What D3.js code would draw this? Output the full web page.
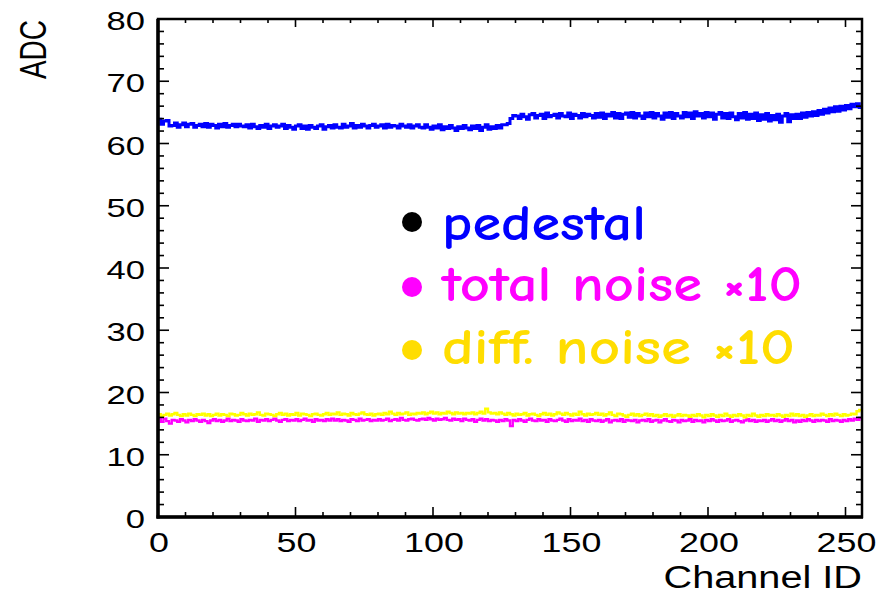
<!DOCTYPE html>
<html>
<head>
<meta charset="utf-8">
<script src="https://cdn.jsdelivr.net/npm/d3@7"></script>
<style>
  html, body { margin: 0; padding: 0; background: #ffffff; }
  svg { display: block; }
</style>
</head>
<body>
<div id="chart"></div>
<script>
const pedestal = [
  63.9,63.1,63.6,63.7,62.8,62.9,63.3,62.6,63.0,63.3,62.7,63.1,63.2,62.6,62.9,63.1,
  62.7,63.2,62.6,63.1,62.9,62.5,63.1,62.7,63.2,62.6,62.9,63.1,62.7,63.1,62.8,62.7,
  63.0,62.5,63.1,62.7,62.4,62.9,62.6,63.1,62.4,62.8,63.0,62.6,62.8,63.1,62.4,62.9,
  62.6,62.3,62.8,63.0,62.4,62.8,62.3,62.9,62.6,62.4,62.8,63.0,62.3,62.7,62.9,62.5,
  63.0,62.6,62.5,63.1,62.6,62.8,63.2,62.5,62.9,62.6,63.1,62.8,62.5,62.9,63.1,62.6,
  62.8,63.0,62.5,63.1,62.6,62.9,62.8,62.5,63.1,62.8,62.6,63.0,62.5,62.8,63.0,62.6,
  62.5,63.0,62.6,62.3,62.8,62.5,63.0,62.2,62.7,62.4,62.9,62.5,62.1,62.7,62.4,62.9,
  62.5,62.2,62.8,62.4,62.9,62.1,62.6,63.0,62.3,62.7,62.4,62.9,62.5,63.0,63.0,63.2,
  64.0,64.5,64.4,64.0,64.7,64.3,63.9,64.6,64.8,64.1,64.5,64.7,64.0,64.9,64.3,64.5,
  64.7,64.1,64.8,64.4,64.3,64.9,64.0,64.7,64.5,64.1,64.8,64.3,64.7,64.5,64.1,64.8,
  64.2,64.9,64.0,64.7,64.4,65.0,64.1,64.8,64.0,64.7,64.9,64.2,65.0,64.1,64.8,64.4,
  64.0,64.9,64.3,65.0,64.1,64.8,64.4,63.9,64.9,64.2,65.0,64.0,64.8,64.4,64.1,65.0,
  64.3,64.9,64.0,65.1,64.4,64.8,64.1,65.0,64.3,64.9,63.9,64.7,65.0,64.1,64.8,64.0,
  64.9,64.3,63.8,64.8,64.1,65.0,63.9,64.7,64.0,64.9,63.7,64.6,63.9,64.8,63.6,64.5,
  63.8,64.7,63.4,64.4,64.8,63.5,64.6,64.0,64.7,64.0,64.9,64.2,65.0,64.4,65.1,64.5,
  65.3,64.7,65.5,64.9,65.7,65.1,65.9,65.2,66.0,65.4,66.1,65.6,66.3,65.9,66.4,65.8
];

const totalNoise = [
  15.9,15.3,15.8,15.4,15.0,15.6,15.5,15.3,15.7,15.5,15.2,15.6,15.4,15.7,15.5,15.3,
  15.6,15.4,15.1,15.5,15.7,15.4,15.6,15.3,15.5,15.8,15.4,15.6,15.5,15.3,15.7,15.5,
  15.4,15.6,15.5,15.8,15.3,15.6,15.5,15.7,15.4,15.6,15.8,15.5,15.3,15.6,15.7,15.4,
  15.6,15.5,15.7,15.4,15.6,15.8,15.5,15.6,15.3,15.7,15.5,15.6,15.4,15.7,15.5,15.8,
  15.5,15.7,15.4,15.6,15.5,15.3,15.7,15.6,15.4,15.8,15.5,15.6,15.7,15.4,15.6,15.5,
  15.7,15.5,15.6,15.8,15.4,15.6,15.7,15.5,15.9,15.6,15.5,15.7,15.8,15.6,15.5,15.7,
  15.8,15.6,15.9,15.7,15.5,15.8,15.6,15.7,15.9,15.6,15.5,15.8,15.6,15.7,15.4,15.8,
  15.6,15.5,15.7,15.3,15.6,15.8,15.5,15.7,15.4,15.6,15.5,15.3,15.6,15.4,15.7,15.5,
  14.6,15.6,15.4,15.7,15.5,15.3,15.6,15.8,15.5,15.4,15.7,15.5,15.6,15.3,15.7,15.5,
  15.4,15.6,15.8,15.5,15.3,15.7,15.4,15.6,15.5,15.8,15.4,15.6,15.3,15.7,15.5,15.4,
  15.6,15.3,15.5,15.7,15.2,15.5,15.6,15.4,15.7,15.3,15.6,15.5,15.4,15.6,15.2,15.5,
  15.6,15.4,15.7,15.3,15.5,15.6,15.2,15.5,15.7,15.4,15.3,15.6,15.5,15.2,15.6,15.4,
  15.5,15.7,15.3,15.6,15.4,15.5,15.2,15.6,15.4,15.7,15.5,15.3,15.6,15.4,15.5,15.7,
  15.3,15.5,15.6,15.4,15.2,15.5,15.7,15.4,15.6,15.3,15.5,15.4,15.6,15.3,15.5,15.7,
  15.4,15.6,15.3,15.5,15.7,15.4,15.6,15.2,15.5,15.3,15.6,15.4,15.7,15.5,15.3,15.6,
  15.4,15.6,15.5,15.3,15.7,15.4,15.6,15.5,15.3,15.6,15.4,15.7,15.5,15.8,15.6,15.9
];

const diffNoise = [
  16.5,16.2,16.4,16.6,16.3,16.5,16.7,16.4,16.2,16.5,16.3,16.6,16.4,16.2,16.5,16.4,
  16.6,16.3,16.5,16.2,16.4,16.6,16.3,16.5,16.4,16.2,16.6,16.5,16.3,16.4,16.7,16.5,
  16.3,16.6,16.4,16.5,16.8,16.4,16.3,16.6,16.5,16.4,16.2,16.5,16.7,16.4,16.6,16.3,
  16.5,16.4,16.7,16.3,16.6,16.5,16.4,16.2,16.5,16.6,16.4,16.3,16.5,16.7,16.4,16.6,
  16.5,16.8,16.4,16.6,16.5,16.3,16.7,16.5,16.4,16.6,16.8,16.5,16.4,16.6,16.3,16.5,
  16.6,16.4,16.7,16.5,16.9,16.6,16.4,16.7,16.5,16.6,16.8,16.4,16.6,16.5,16.7,16.6,
  16.8,16.5,16.7,16.9,16.6,16.8,16.5,16.7,16.6,16.9,16.7,16.5,16.8,16.6,16.7,16.5,
  16.7,16.6,16.8,16.5,16.7,16.9,16.6,17.4,16.8,16.6,16.7,16.5,16.8,16.6,16.4,16.7,
  16.5,16.3,16.6,16.4,16.5,16.7,16.3,16.5,16.6,16.4,16.2,16.5,16.7,16.4,16.6,16.3,
  16.5,16.8,16.6,16.4,16.7,16.5,16.3,16.6,16.4,16.9,16.5,16.3,16.6,16.4,16.5,16.7,
  16.4,16.6,16.3,16.5,16.8,16.4,16.2,16.6,16.5,16.3,16.1,16.4,16.6,16.3,16.5,16.2,
  16.4,16.6,16.3,16.5,16.2,16.4,16.1,16.3,16.5,16.2,16.4,16.1,16.3,16.5,16.2,16.4,
  16.3,16.1,16.4,16.2,16.5,16.3,16.0,16.4,16.2,16.5,16.3,16.1,16.4,16.2,16.6,16.3,
  16.1,16.4,16.2,16.5,16.3,16.0,16.4,16.2,16.6,16.3,16.1,16.4,16.2,16.5,16.3,16.4,
  16.2,16.5,16.3,16.1,16.4,16.2,16.6,16.3,16.5,16.2,16.4,16.1,16.3,16.5,16.2,16.4,
  16.3,16.6,16.4,16.2,16.5,16.3,16.6,16.4,16.2,16.5,16.3,16.4,16.6,16.5,17.0,17.2
];

const xTicks = [0, 50, 100, 150, 200, 250];
const yTicks = [0, 10, 20, 30, 40, 50, 60, 70, 80];
const legendLabels = ["pedestal", "total noise \u00d710", "diff. noise \u00d710"];
const legendTextColors = ["#0000ff", "#ff00ff", "#ffdd00"];
const legendDotColors = ["#000000", "#ff00ff", "#ffdd00"];

(function() {
  const width = 882;
  const height = 594;
  const plot = { left: 158, right: 862, top: 19, bottom: 517 };
  const stretch = 1.33;   // picture is squeezed wider than the glyphs
  const axisFont = "'Liberation Sans', Arial, Helvetica, sans-serif";

  const svg = d3.select("#chart")
    .append("svg")
    .attr("width", width)
    .attr("height", height);

  const x = d3.scaleLinear().domain([0, 256]).range([plot.left, plot.right]);
  const y = d3.scaleLinear().domain([0, 80]).range([plot.bottom, plot.top]);

  // histogram outline: flat step over each channel bin
  function stepPath(values) {
    const pts = [];
    values.forEach((v, i) => {
      pts.push([x(i), y(v)]);
      pts.push([x(i + 1), y(v)]);
    });
    return d3.line()(pts);
  }

  const series = [
    { values: pedestal, color: "#0000ff", width: 3 },
    { values: totalNoise, color: "#ff00ff", width: 2.4 },
    { values: diffNoise, color: "#ffff00", width: 2.4 }
  ];

  svg.append("g")
    .selectAll("path")
    .data(series)
    .enter()
    .append("path")
    .attr("d", d => stepPath(d.values))
    .attr("fill", "none")
    .attr("stroke", d => d.color)
    .attr("stroke-width", d => d.width)
    .attr("stroke-linejoin", "miter");

  // ticks on all four sides, pointing inward
  const ticks = svg.append("g").attr("stroke", "#000").attr("stroke-width", 1.6);
  d3.range(0, 257, 10).forEach(v => {
    const major = v % 50 === 0;
    ticks.append("line")
      .attr("x1", x(v)).attr("x2", x(v))
      .attr("y1", plot.bottom).attr("y2", plot.bottom - (major ? 10 : 5));
    ticks.append("line")
      .attr("x1", x(v)).attr("x2", x(v))
      .attr("y1", plot.top).attr("y2", plot.top + (major ? 8 : 4));
  });
  d3.range(0, 81, 2).forEach(v => {
    const major = v % 10 === 0;
    ticks.append("line")
      .attr("x1", plot.left).attr("x2", plot.left + (major ? 11 : 6))
      .attr("y1", y(v)).attr("y2", y(v));
    ticks.append("line")
      .attr("x1", plot.right).attr("x2", plot.right - (major ? 11 : 6))
      .attr("y1", y(v)).attr("y2", y(v));
  });

  // frame
  svg.append("rect")
    .attr("x", plot.left)
    .attr("y", plot.top)
    .attr("width", plot.right - plot.left)
    .attr("height", plot.bottom - plot.top)
    .attr("fill", "none")
    .attr("stroke", "#000")
    .attr("stroke-width", 2.5);
  svg.append("line")
    .attr("x1", plot.left).attr("x2", plot.left)
    .attr("y1", plot.top).attr("y2", plot.bottom + 1.5)
    .attr("stroke", "#000").attr("stroke-width", 3.5);
  svg.append("line")
    .attr("x1", plot.left - 1.5).attr("x2", plot.right + 1)
    .attr("y1", plot.bottom).attr("y2", plot.bottom)
    .attr("stroke", "#000").attr("stroke-width", 3.5);

  svg.append("g")
    .selectAll("text")
    .data(yTicks)
    .enter()
    .append("text")
    .attr("transform", d => `translate(145,${y(d) + 11}) scale(${stretch},1)`)
    .attr("text-anchor", "end")
    .attr("font-family", axisFont)
    .attr("font-size", "26px")
    .attr("fill", "#000")
    .text(d => d);

  svg.append("g")
    .selectAll("text")
    .data(xTicks)
    .enter()
    .append("text")
    .attr("transform", d => `translate(${x(d) + 1},552) scale(${stretch},1)`)
    .attr("text-anchor", "middle")
    .attr("font-family", axisFont)
    .attr("font-size", "27px")
    .attr("fill", "#000")
    .text(d => d);

  svg.append("text")
    .attr("transform", `translate(862,588) scale(1.28,1)`)
    .attr("text-anchor", "end")
    .attr("font-family", axisFont)
    .attr("font-size", "31px")
    .attr("fill", "#000")
    .text("Channel ID");

  svg.append("text")
    .attr("transform", `translate(46,20) scale(${stretch},1) rotate(-90)`)
    .attr("text-anchor", "end")
    .attr("font-family", axisFont)
    .attr("font-size", "28px")
    .attr("fill", "#000")
    .text("ADC");

  // legend
  const legendRows = legendLabels.map((label, i) => ({
    label,
    textColor: legendTextColors[i],
    dotColor: legendDotColors[i],
    baseline: [240, 301, 364][i],
    dotY: [222, 287, 350][i],
    textWidth: [204, 360, 353][i]
  }));

  const legend = svg.append("g");
  legend.selectAll("circle")
    .data(legendRows)
    .enter()
    .append("circle")
    .attr("cx", 412)
    .attr("cy", d => d.dotY)
    .attr("r", 10)
    .attr("fill", d => d.dotColor);

  legend.selectAll("text")
    .data(legendRows)
    .enter()
    .append("text")
    .attr("x", 442)
    .attr("y", d => d.baseline)
    .attr("font-family", "'Comic Sans MS', 'Comic Neue', 'DejaVu Sans', sans-serif")
    .attr("font-size", "50px")
    .attr("font-weight", "bold")
    .attr("fill", d => d.textColor)
    .attr("textLength", d => d.textWidth)
    .attr("lengthAdjust", "spacingAndGlyphs")
    .text(d => d.label);
})();
</script>
</body>
</html>
